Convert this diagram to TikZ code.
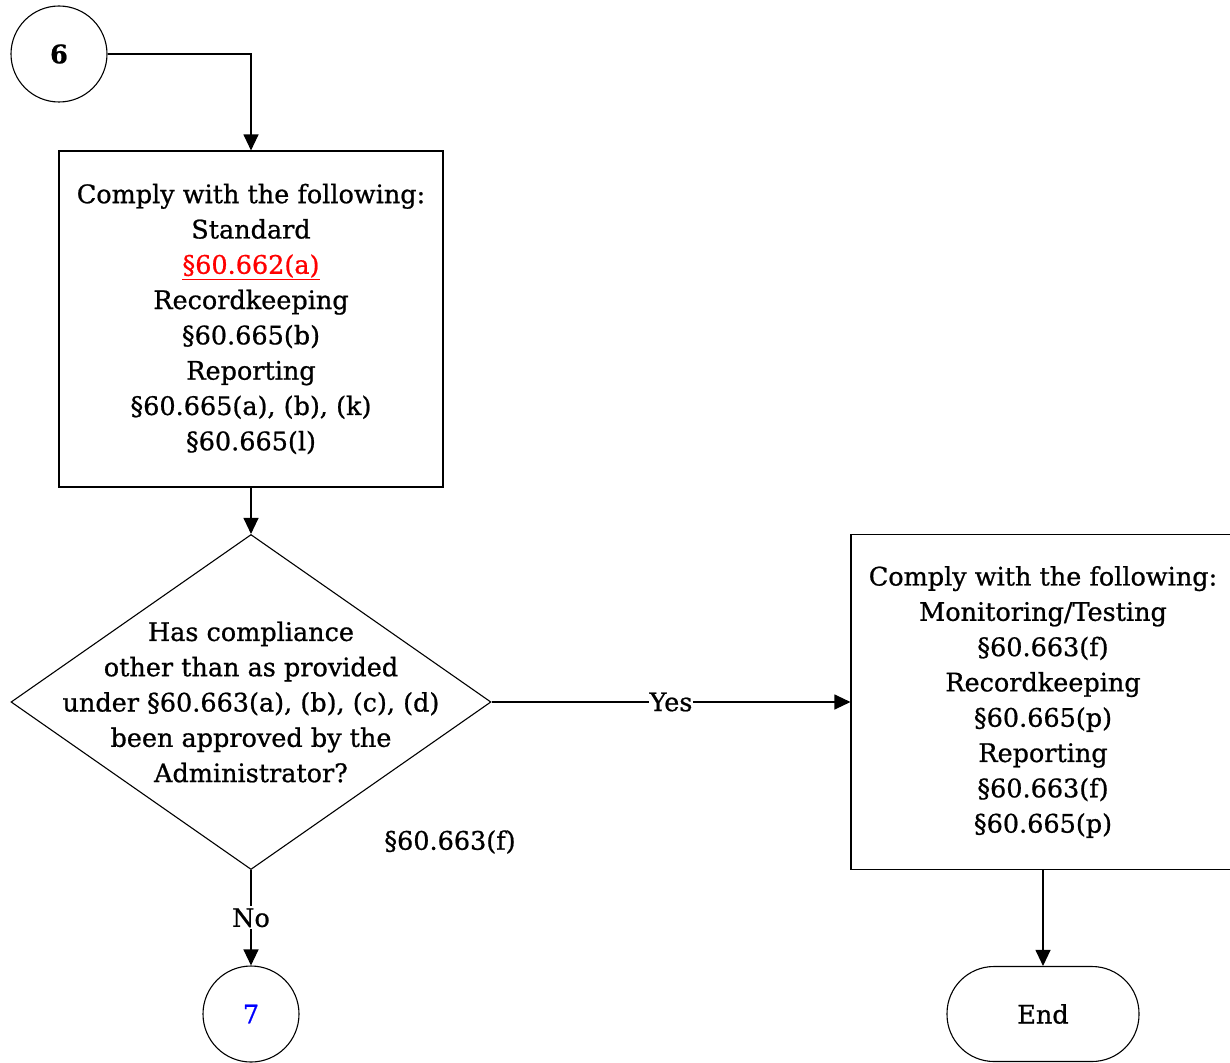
\documentclass[tikz,border=0pt]{standalone}
\usepackage{fontspec}
\setmainfont{DejaVu Serif}[FakeBold=0.8]
\usetikzlibrary{shapes.geometric,arrows.meta}
\begin{document}
\begin{tikzpicture}[x=1pt,y=-1pt,
  txt/.style={font=\fontsize{25.5}{35.3}\selectfont, align=center, inner sep=0pt},
  line/.style={line width=1.1pt, draw=black},
  arr/.style={line, -{Triangle[length=16pt,width=15pt]}},
  procbox/.style={line, rectangle, minimum width=384pt, minimum height=336pt, inner sep=0pt},
  conn/.style={line, circle, minimum size=96pt, inner sep=0pt},
]
\useasboundingbox (0,0) rectangle (1230,1062);
\node[conn, txt] (c6) at (59,54) {\bfseries 6};
\node[procbox, txt] (b1) at (251,319) {Comply with the following:\\Standard\\\textcolor{red}{\underline{§60.662(a)}}\\Recordkeeping\\§60.665(b)\\Reporting\\§60.665(a), (b), (k)\\§60.665(l)};
\node[line, diamond, minimum width=480pt, minimum height=335pt, inner sep=0pt, aspect=1.433] (d) at (251,702) {};
\node[txt] (dt) at (251,702) {Has compliance\\other than as provided\\under §60.663(a), (b), (c), (d)\\been approved by the\\Administrator?};
\node[procbox, minimum width=384pt, minimum height=335pt, txt] (b2) at (1043,702) {Comply with the following:\\Monitoring/Testing\\§60.663(f)\\Recordkeeping\\§60.665(p)\\Reporting\\§60.663(f)\\§60.665(p)};
\node[txt] (lab) at (450,842) {§60.663(f)};
\node[conn, txt, text=blue] (c7) at (251,1014) {7};
\node[line, rectangle, rounded corners=47pt, minimum width=192pt, minimum height=95pt, txt] (end) at (1043,1014) {End};
\coordinate (k1) at (251,54);
\draw[arr] (c6.east) -- (k1) -- (b1.north);
\draw[arr] (b1.south) -- (d.north);
\draw[arr] (d.east) -- node[txt, fill=white, inner xsep=1pt] {Yes} (b2.west);
\draw[arr] (d.south) -- node[txt, fill=white, inner ysep=2pt] {No} (c7.north);
\draw[arr] (b2.south) -- (end.north);
\end{tikzpicture}
\end{document}
